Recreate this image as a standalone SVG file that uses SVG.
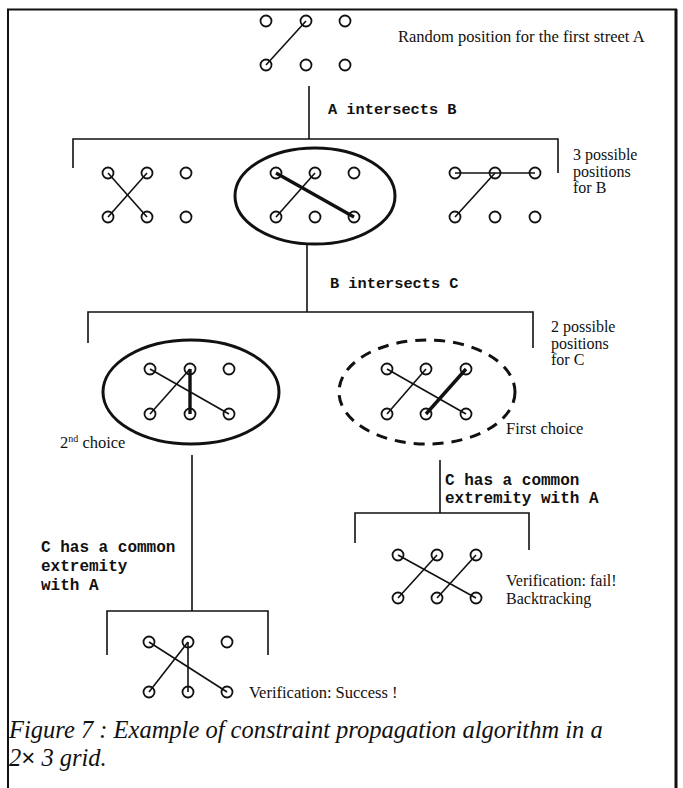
<svg xmlns="http://www.w3.org/2000/svg" xmlns:xlink="http://www.w3.org/1999/xlink" width="683" height="788" viewBox="0 0 683 788">
<style>
.c{fill:none;stroke:#111;stroke-width:1.8}
.ln{stroke:#111;stroke-width:1.6;fill:none}
.tk{stroke:#111;stroke-width:3.4;fill:none}
.br{stroke:#111;stroke-width:1.6;fill:none}
.el{fill:none;stroke:#111;stroke-width:3}
.ser{font-family:"Liberation Serif","Times New Roman",serif;font-size:16.5px;fill:#111}
.lab{font-family:"Liberation Serif","Times New Roman",serif;font-size:16px;fill:#111}
.mono{font-family:"Liberation Mono","Courier New",monospace;font-size:16px;font-weight:bold;fill:#111}
.mono2{font-family:"Liberation Mono","Courier New",monospace;font-size:15.3px;font-weight:bold;fill:#111}
.cap{font-family:"Liberation Serif","Times New Roman",serif;font-style:italic;font-size:24.5px;fill:#111}
</style>
<defs>
<circle id="d" r="5.5" class="c"/>
</defs>
<rect width="683" height="788" fill="#fff"/>
<path d="M8,788 V9.5 H676 V788" fill="none" stroke="#111" stroke-width="2"/>
<line x1="676" y1="9" x2="676" y2="788" stroke="#111" stroke-width="3"/>

<g id="connectors">
<line class="br" x1="309" y1="86" x2="309" y2="139"/>
<path class="br" d="M73,168 V139 H558 V173"/>
<line class="br" x1="307" y1="244" x2="307" y2="312"/>
<path class="br" d="M88,343 V312 H533 V348"/>
<line class="br" x1="192" y1="455" x2="192" y2="611"/>
<path class="br" d="M107,655 V611 H268 V655"/>
<line class="br" x1="440" y1="460" x2="440" y2="513"/>
<path class="br" d="M355,543 V513 H529 V550"/>
</g>

<g id="nodeA">
<line class="ln" x1="266" y1="65" x2="306" y2="21"/>
<use xlink:href="#d" x="266" y="21"/><use xlink:href="#d" x="306" y="21"/><use xlink:href="#d" x="345" y="21"/>
<use xlink:href="#d" x="266" y="65"/><use xlink:href="#d" x="306" y="65"/><use xlink:href="#d" x="345" y="65"/>
<text class="ser" x="398" y="42">Random position for the first street A</text>
</g>

<g id="labelAB"><text class="mono2" x="328" y="114">A intersects B</text></g>

<g id="nodeB1">
<line class="ln" x1="108" y1="173" x2="147" y2="217"/>
<line class="ln" x1="147" y1="173" x2="108" y2="217"/>
<use xlink:href="#d" x="108" y="173"/><use xlink:href="#d" x="147" y="173"/><use xlink:href="#d" x="186" y="173"/>
<use xlink:href="#d" x="108" y="217"/><use xlink:href="#d" x="147" y="217"/><use xlink:href="#d" x="186" y="217"/>
</g>

<g id="nodeB2">
<ellipse class="el" cx="315" cy="196" rx="80" ry="48"/>
<line class="tk" x1="276" y1="173" x2="354" y2="217"/>
<line class="ln" x1="315" y1="173" x2="276" y2="217"/>
<use xlink:href="#d" x="276" y="173"/><use xlink:href="#d" x="315" y="173"/><use xlink:href="#d" x="354" y="173"/>
<use xlink:href="#d" x="276" y="217"/><use xlink:href="#d" x="315" y="217"/><use xlink:href="#d" x="354" y="217"/>
</g>

<g id="nodeB3">
<line class="ln" x1="455" y1="173" x2="535" y2="173"/>
<line class="ln" x1="495" y1="173" x2="455" y2="217"/>
<use xlink:href="#d" x="455" y="173"/><use xlink:href="#d" x="495" y="173"/><use xlink:href="#d" x="535" y="173"/>
<use xlink:href="#d" x="455" y="217"/><use xlink:href="#d" x="495" y="217"/><use xlink:href="#d" x="535" y="217"/>
</g>

<g id="labelB">
<text class="lab" x="573" y="160">3 possible</text>
<text class="lab" x="573" y="176.5">positions</text>
<text class="lab" x="573" y="193">for B</text>
</g>

<g id="labelBC"><text class="mono2" x="330" y="288">B intersects C</text></g>

<g id="labelC">
<text class="lab" x="551" y="332">2 possible</text>
<text class="lab" x="551" y="348.5">positions</text>
<text class="lab" x="551" y="365">for C</text>
</g>

<g id="nodeC1">
<ellipse class="el" cx="191" cy="392" rx="88" ry="52"/>
<line class="ln" x1="150" y1="369" x2="229" y2="414"/>
<line class="ln" x1="190" y1="369" x2="150" y2="414"/>
<line class="tk" x1="190" y1="369" x2="190" y2="414"/>
<use xlink:href="#d" x="150" y="369"/><use xlink:href="#d" x="190" y="369"/><use xlink:href="#d" x="229" y="369"/>
<use xlink:href="#d" x="150" y="414"/><use xlink:href="#d" x="190" y="414"/><use xlink:href="#d" x="229" y="414"/>
<text class="ser" x="60" y="448">2<tspan font-size="10" dy="-6">nd</tspan><tspan dy="6"> choice</tspan></text>
</g>

<g id="nodeC2">
<ellipse class="el" cx="427" cy="392" rx="88" ry="52" stroke-dasharray="11 8"/>
<line class="ln" x1="387" y1="369" x2="466" y2="414"/>
<line class="ln" x1="426" y1="369" x2="387" y2="414"/>
<line class="tk" x1="466" y1="369" x2="426" y2="414"/>
<use xlink:href="#d" x="387" y="369"/><use xlink:href="#d" x="426" y="369"/><use xlink:href="#d" x="466" y="369"/>
<use xlink:href="#d" x="387" y="414"/><use xlink:href="#d" x="426" y="414"/><use xlink:href="#d" x="466" y="414"/>
<text class="ser" x="506" y="434">First choice</text>
</g>

<g id="labelCA1">
<text class="mono" x="445" y="485">C has a common</text>
<text class="mono" x="445" y="503">extremity with A</text>
</g>

<g id="nodeFail">
<line class="ln" x1="398" y1="555" x2="476" y2="598"/>
<line class="ln" x1="437" y1="555" x2="398" y2="598"/>
<line class="ln" x1="476" y1="555" x2="437" y2="598"/>
<use xlink:href="#d" x="398" y="555"/><use xlink:href="#d" x="437" y="555"/><use xlink:href="#d" x="476" y="555"/>
<use xlink:href="#d" x="398" y="598"/><use xlink:href="#d" x="437" y="598"/><use xlink:href="#d" x="476" y="598"/>
<text class="lab" x="506" y="586">Verification: fail!</text>
<text class="lab" x="506" y="604">Backtracking</text>
</g>

<g id="labelCA2">
<text class="mono" x="41" y="552">C has a common</text>
<text class="mono" x="41" y="571">extremity</text>
<text class="mono" x="41" y="590">with A</text>
</g>

<g id="nodeSuccess">
<line class="ln" x1="149" y1="642" x2="227" y2="692"/>
<line class="ln" x1="188" y1="642" x2="149" y2="692"/>
<line class="ln" x1="188" y1="642" x2="188" y2="692"/>
<use xlink:href="#d" x="149" y="642"/><use xlink:href="#d" x="188" y="642"/><use xlink:href="#d" x="227" y="642"/>
<use xlink:href="#d" x="149" y="692"/><use xlink:href="#d" x="188" y="692"/><use xlink:href="#d" x="227" y="692"/>
<text class="ser" x="249" y="698">Verification: Success !</text>
</g>

<g id="caption">
<text class="cap" x="9" y="738">Figure 7 : Example of constraint propagation algorithm in a</text>
<text class="cap" x="9" y="766">2<tspan font-style="normal" font-family="'Liberation Sans',sans-serif" font-size="24">×</tspan> 3 grid.</text>
</g>
</svg>
